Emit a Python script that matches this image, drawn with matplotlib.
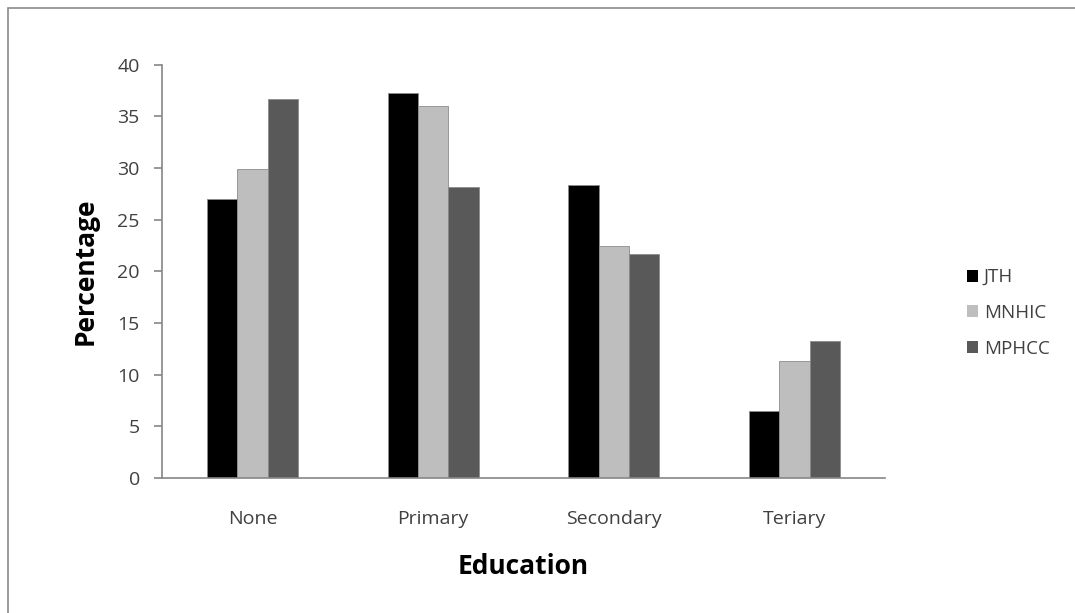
import matplotlib
matplotlib.use("Agg")
import matplotlib.pyplot as plt
import numpy as np
from matplotlib.patches import Rectangle

# Education level distribution by facility
categories = ["None", "Primary", "Secondary", "Teriary"]
series_names = ["JTH", "MNHIC", "MPHCC"]
jth = [27.0, 37.3, 28.4, 6.5]
mnhic = [29.9, 36.0, 22.5, 11.3]
mphcc = [36.7, 28.2, 21.7, 13.3]
y_ticks = [0, 5, 10, 15, 20, 25, 30, 35, 40]

colors = ["#000000", "#bebebe", "#595959"]
text_color = "#404040"
axis_color = "#868686"

plt.rcParams["font.family"] = ["Open Sans", "DejaVu Sans"]

fig = plt.figure(figsize=(10.75, 6.13), dpi=100)
fig.patch.set_facecolor("white")

# outer chart frame
fig.add_artist(Rectangle((8 / 1075, -0.05), 1.1, 1 - 8 / 613 + 0.05,
                         transform=fig.transFigure, fill=False,
                         edgecolor="#8a8a8a", linewidth=1.2))

ax = fig.add_axes([162 / 1075, 1 - 478 / 613, (885 - 162) / 1075, (478 - 64.7) / 613])

x = np.arange(len(categories))
width = 0.168
for i, (vals, name) in enumerate(zip([jth, mnhic, mphcc], series_names)):
    ax.bar(x + (i - 1) * width, vals, width, color=colors[i], label=name,
           edgecolor="#8c8c8c", linewidth=0.6, zorder=2)

ax.set_xlim(-0.5, len(categories) - 0.5)
ax.set_ylim(0, 40)
ax.set_yticks(y_ticks)
ax.set_yticklabels([str(t) for t in y_ticks])
ax.set_xticks(x)
ax.set_xticklabels(categories)

for side in ["top", "right"]:
    ax.spines[side].set_visible(False)
for side in ["left", "bottom"]:
    ax.spines[side].set_color(axis_color)
    ax.spines[side].set_linewidth(1.2)

ax.tick_params(axis="y", direction="out", length=6, width=1.2, color=axis_color,
               labelsize=14, labelcolor=text_color, pad=10)
ax.tick_params(axis="x", length=0, labelsize=14, labelcolor=text_color, pad=23)

fig.text(85 / 1075, 1 - 271 / 613, "Percentage", rotation=90, ha="center", va="center",
         fontsize=19, fontweight="bold", color="#000000")
fig.text(523 / 1075, 1 - 566 / 613, "Education", ha="center", va="center",
         fontsize=19, fontweight="bold", color="#000000")

handles, labels = ax.get_legend_handles_labels()
leg = fig.legend(handles, labels, loc="center left",
                 bbox_to_anchor=(950 / 1075, 1 - 313 / 613),
                 frameon=False, fontsize=13.5, handlelength=0.6, handleheight=0.6,
                 handletextpad=0.3, labelspacing=0.95)
for t in leg.get_texts():
    t.set_color(text_color)
for h in leg.legend_handles:
    h.set_edgecolor("none")

fig.savefig("out.png", dpi=100)
